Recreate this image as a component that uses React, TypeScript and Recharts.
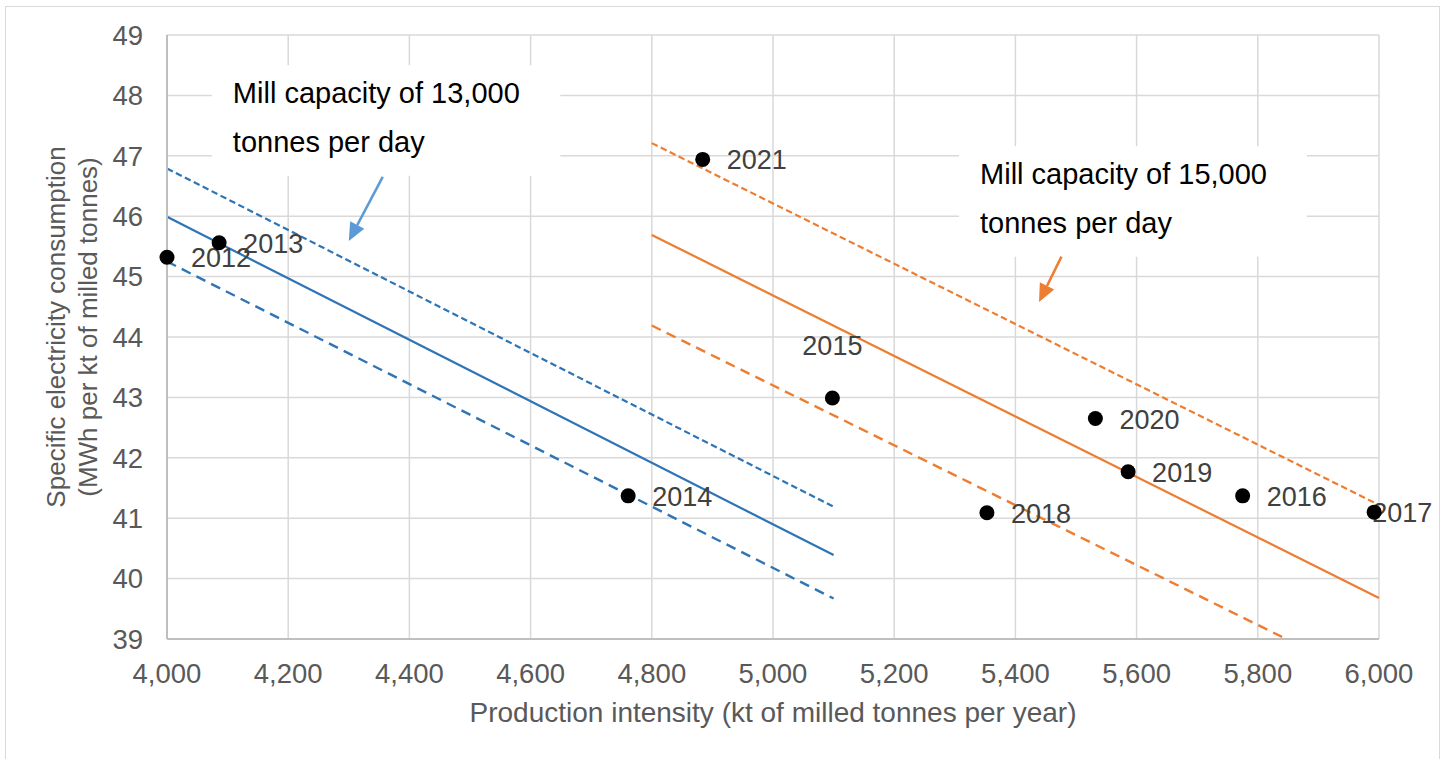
import React from 'react';
import {
  ComposedChart,
  XAxis,
  YAxis,
  CartesianGrid,
  Line,
  Scatter,
  ReferenceArea,
  ReferenceLine,
} from 'recharts';

const FONT = '"Liberation Sans", Arial, sans-serif';
const BLUE = '#2e75b6';
const BLUE_ARROW = '#5b9bd5';
const ORANGE = '#ed7d31';

// Yearly observations: production intensity vs specific electricity consumption
const years = [2012, 2013, 2014, 2015, 2016, 2017, 2018, 2019, 2020, 2021];
const production = [4000, 4086, 4761, 5098, 5775, 5992, 5353, 5586, 5532, 4884];
const consumption = [45.32, 45.56, 41.37, 42.99, 41.37, 41.1, 41.09, 41.77, 42.65, 46.94];

// Axis ticks
const xTicks = [4000, 4200, 4400, 4600, 4800, 5000, 5200, 5400, 5600, 5800, 6000];
const yTicks = [39, 40, 41, 42, 43, 44, 45, 46, 47, 48, 49];

// 13,000 t/day mill: fit line and upper / lower bands (endpoints)
const mill13X = [4000, 5100];
const mill13Fit = [45.99, 40.39];
const mill13Upper = [46.79, 41.19];
const mill13Lower = [45.25, 39.67];

// 15,000 t/day mill: fit line and upper / lower bands (endpoints)
const mill15X = [4800, 6000];
const mill15Fit = [45.69, 39.68];
const mill15Upper = [47.21, 41.22];
const mill15LowerX = [4800, 5847];
const mill15Lower = [44.19, 39.0];

// Callout boxes and arrows (data coordinates)
const note13Text = ['Mill capacity of 13,000', 'tonnes per day'];
const note13X = [4074, 4649];
const note13Y = [46.67, 48.5];
const arrow13 = [
  { x: 4356, y: 46.65 },
  { x: 4300, y: 45.59 },
];
const note15Text = ['Mill capacity of 15,000', 'tonnes per day'];
const note15X = [5307, 5881];
const note15Y = [45.33, 47.16];
const arrow15 = [
  { x: 5476, y: 45.33 },
  { x: 5439, y: 44.58 },
];

// Where each year label sits relative to its marker (default: right)
const labelSide: Record<number, 'above' | 'on'> = { 2015: 'above', 2017: 'on' };

const points = years.map((year, i) => ({ x: production[i], y: consumption[i], year }));
const seg = (xs: number[], ys: number[]) => xs.map((x, i) => ({ x, y: ys[i] }));

const renderPoint = (props: any) => {
  const { cx, cy, payload } = props;
  const side = labelSide[payload.year];
  let tx = cx + 24;
  let ty = cy + 10;
  let anchor: 'start' | 'middle' = 'start';
  if (side === 'above') {
    tx = cx;
    ty = cy - 43;
    anchor = 'middle';
  } else if (side === 'on') {
    tx = cx - 2;
  }
  return (
    <g>
      <text x={tx} y={ty} textAnchor={anchor} fontSize={27} fill="#404040" fontFamily={FONT}>
        {payload.year}
      </text>
      <circle cx={cx} cy={cy} r={7.5} fill="#000" />
    </g>
  );
};

const arrowShape = (color: string) => (props: any) => {
  const { x1, y1, x2, y2 } = props;
  const dx = x2 - x1;
  const dy = y2 - y1;
  const len = Math.hypot(dx, dy) || 1;
  const ux = dx / len;
  const uy = dy / len;
  const hl = 18;
  const hw = 8;
  const bx = x2 - ux * hl;
  const by = y2 - uy * hl;
  return (
    <g>
      <line x1={x1} y1={y1} x2={bx} y2={by} stroke={color} strokeWidth={2.5} />
      <polygon
        points={`${x2},${y2} ${bx - uy * hw},${by + ux * hw} ${bx + uy * hw},${by - ux * hw}`}
        fill={color}
      />
    </g>
  );
};

const noteShape = (lines: string[]) => (props: any) => {
  const { x, y, width, height } = props;
  return (
    <g>
      <rect x={x} y={y} width={width} height={height} fill="#fff" />
      {lines.map((t, i) => (
        <text key={t} x={x + 21} y={y + 38 + i * 49} fontSize={29} fill="#000" fontFamily={FONT}>
          {t}
        </text>
      ))}
    </g>
  );
};

const xTitle = (p: any) => {
  const vb = p.viewBox;
  return (
    <text
      x={vb.x + vb.width / 2}
      y={vb.y + 83}
      textAnchor="middle"
      fontSize={28}
      fill="#595959"
      fontFamily={FONT}
    >
      Production intensity (kt of milled tonnes per year)
    </text>
  );
};

const yTitle = (p: any) => {
  const vb = p.viewBox;
  const cy = vb.y + vb.height / 2 - 10;
  const lines = ['Specific electricity consumption', '(MWh per kt of milled tonnes)'];
  const xs = [vb.x + 65, vb.x + 97];
  return (
    <g>
      {lines.map((t, i) => (
        <text
          key={t}
          x={xs[i]}
          y={cy}
          transform={`rotate(-90, ${xs[i]}, ${cy})`}
          textAnchor="middle"
          fontSize={26}
          fill="#595959"
          fontFamily={FONT}
        >
          {t}
        </text>
      ))}
    </g>
  );
};

const fmt = (v: number) => v.toLocaleString('en-US');
const tickStyle = { fontSize: 27.5, fill: '#595959', fontFamily: FONT };

export default function App() {
  return (
    <div
      style={{
        position: 'absolute',
        left: 0,
        top: 0,
        width: 1447,
        height: 759,
        overflow: 'hidden',
        background: '#fff',
      }}
    >
      <div
        style={{
          position: 'absolute',
          left: 5,
          top: 6,
          width: 1435,
          height: 800,
          border: '1px solid #d9d9d9',
          boxSizing: 'border-box',
        }}
      />
      <div style={{ position: 'absolute', left: 0, top: 0 }}>
        <ComposedChart
          width={1447}
          height={759}
          margin={{ top: 35, right: 68, bottom: 0, left: 0 }}
        >
          <CartesianGrid stroke="#d9d9d9" strokeWidth={1.5} />
          <XAxis
            type="number"
            dataKey="x"
            domain={[4000, 6000]}
            ticks={xTicks}
            tickFormatter={fmt}
            height={120}
            axisLine={{ stroke: '#bfbfbf', strokeWidth: 2 }}
            tickLine={false}
            tickSize={0}
            tickMargin={24}
            tick={tickStyle}
            interval={0}
            label={{ content: xTitle }}
          />
          <YAxis
            type="number"
            dataKey="y"
            domain={[39, 49]}
            ticks={yTicks}
            width={167}
            axisLine={{ stroke: '#bfbfbf', strokeWidth: 2 }}
            tickLine={false}
            tickSize={0}
            tickMargin={24}
            tick={tickStyle}
            interval={0}
            label={{ content: yTitle }}
          />
          <ReferenceArea
            x1={note13X[0]}
            x2={note13X[1]}
            y1={note13Y[0]}
            y2={note13Y[1]}
            ifOverflow="visible"
            shape={noteShape(note13Text)}
          />
          <ReferenceArea
            x1={note15X[0]}
            x2={note15X[1]}
            y1={note15Y[0]}
            y2={note15Y[1]}
            ifOverflow="visible"
            shape={noteShape(note15Text)}
          />
          <ReferenceLine segment={arrow13} ifOverflow="visible" shape={arrowShape(BLUE_ARROW)} />
          <ReferenceLine segment={arrow15} ifOverflow="visible" shape={arrowShape(ORANGE)} />

          <Line data={seg(mill13X, mill13Upper)} dataKey="y" stroke={BLUE} strokeWidth={2.2} strokeDasharray="6.5 3.5" dot={false} activeDot={false} isAnimationActive={false} />
          <Line data={seg(mill13X, mill13Fit)} dataKey="y" stroke={BLUE} strokeWidth={2.2} dot={false} activeDot={false} isAnimationActive={false} />
          <Line data={seg(mill13X, mill13Lower)} dataKey="y" stroke={BLUE} strokeWidth={2.4} strokeDasharray="10 6.5" dot={false} activeDot={false} isAnimationActive={false} />
          <Line data={seg(mill15X, mill15Upper)} dataKey="y" stroke={ORANGE} strokeWidth={2.2} strokeDasharray="6.5 3.5" dot={false} activeDot={false} isAnimationActive={false} />
          <Line data={seg(mill15X, mill15Fit)} dataKey="y" stroke={ORANGE} strokeWidth={2.2} dot={false} activeDot={false} isAnimationActive={false} />
          <Line data={seg(mill15LowerX, mill15Lower)} dataKey="y" stroke={ORANGE} strokeWidth={2.4} strokeDasharray="10 6.5" dot={false} activeDot={false} isAnimationActive={false} />

          <Scatter data={points} dataKey="y" shape={renderPoint} isAnimationActive={false} />
        </ComposedChart>
      </div>
    </div>
  );
}
